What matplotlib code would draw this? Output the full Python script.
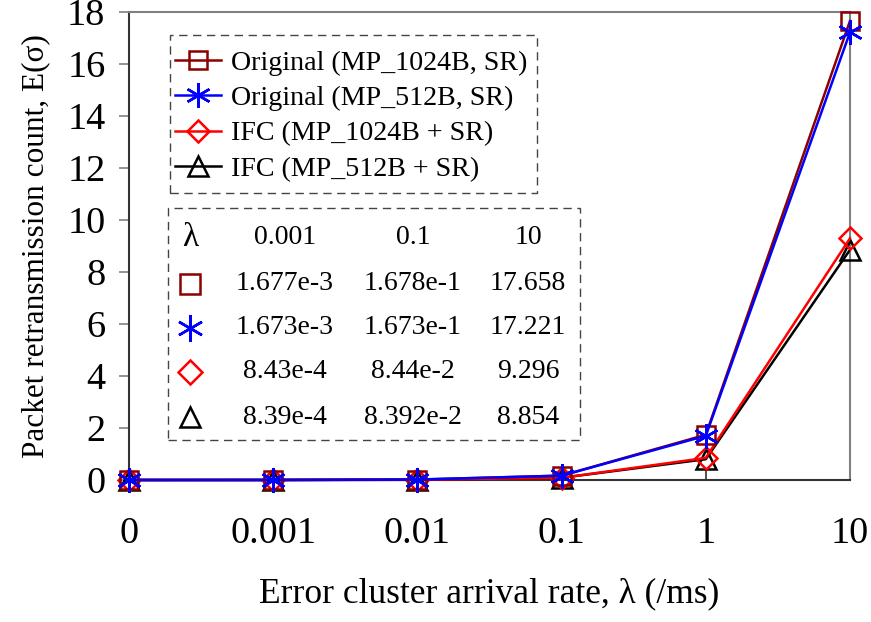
import matplotlib
matplotlib.use("Agg")
import matplotlib.pyplot as plt
from matplotlib.lines import Line2D
from matplotlib.patches import Rectangle

plt.rcParams['font.family'] = ['Liberation Serif', 'DejaVu Serif']

# Error cluster arrival rate categories (/ms)
rates = ["0", "0.001", "0.01", "0.1", "1", "10"]

# Expected packet retransmission count E(sigma)
orig_1024 = [0.0, 1.677e-3, 1.677e-2, 1.678e-1, 1.74, 17.658]
orig_512 = [0.0, 1.673e-3, 1.673e-2, 1.673e-1, 1.70, 17.221]
ifc_1024 = [0.0, 8.43e-4, 8.43e-3, 8.44e-2, 0.85, 9.296]
ifc_512 = [0.0, 8.39e-4, 8.39e-3, 8.392e-2, 0.80, 8.854]

series_labels = ["Original (MP_1024B, SR)", "Original (MP_512B, SR)",
                 "IFC (MP_1024B + SR)", "IFC (MP_512B + SR)"]

# Summary table rows
table_header = ["\u03bb", "0.001", "0.1", "10"]
table_rows = [
    ["1.677e-3", "1.678e-1", "17.658"],
    ["1.673e-3", "1.673e-1", "17.221"],
    ["8.43e-4", "8.44e-2", "9.296"],
    ["8.39e-4", "8.392e-2", "8.854"],
]

W, H = 871, 622
fig = plt.figure(figsize=(W / 100, H / 100), dpi=100)
ax = fig.add_axes([129 / W, 1 - 480 / H, (850 - 129) / W, (480 - 12) / H])

styles = [
    dict(color="#8B0000", marker="s", ms=13),
    dict(color="#0000FF", marker=(6, 2, 0), ms=18),
    dict(color="#FF0000", marker="D", ms=11),
    dict(color="#000000", marker="^", ms=14),
]
data = [orig_1024, orig_512, ifc_1024, ifc_512]
x = list(range(len(rates)))

draw_order = [3, 2, 1, 0]
handles = [None] * 4
for i in draw_order:
    st = styles[i]
    ln, = ax.plot(x, data[i], color=st["color"], lw=1.8, marker=st["marker"],
                  ms=st["ms"], mfc="none", mec=st["color"], mew=1.8,
                  clip_on=False, zorder=3 + (1 if i == 1 else 0),
                  label=series_labels[i])
    handles[i] = ln

ax.set_xlim(0, 5)
ax.set_ylim(0, 18)
ax.set_xticks(x)
ax.set_xticklabels(rates)
ax.set_yticks(range(0, 19, 2))

for side in ("top", "right"):
    ax.spines[side].set_color("#808080")
    ax.spines[side].set_linewidth(1.5)
for side in ("left", "bottom"):
    ax.spines[side].set_color("#333333")
    ax.spines[side].set_linewidth(1.5)

ax.tick_params(axis="x", direction="in", length=8, width=1.2, color="#333333",
               labelsize=27.5, pad=26)
ax.tick_params(axis="y", direction="out", length=7, width=1.2, color="#808080",
               labelsize=27.5, pad=10)

ax.set_xlabel("Error cluster arrival rate, \u03bb (/ms)", fontsize=25.5, labelpad=19)
ax.set_ylabel("Packet retransmission count, E(\u03c3)", fontsize=22.5, labelpad=12)

# Legend entries, framed by a separate dashed box
leg = ax.legend(handles=handles, loc="upper left",
                bbox_to_anchor=(175 / W, 1 - 50 / H), bbox_transform=fig.transFigure,
                fontsize=20.2, frameon=False, handlelength=1.65,
                handletextpad=0.33, labelspacing=0.35, borderpad=0,
                borderaxespad=0)
leg.set_zorder(7)
leg_box = Rectangle((170 / W, 1 - 193 / H), (537 - 170) / W, (193 - 35) / H,
                    transform=fig.transFigure, fill=True, facecolor="white",
                    edgecolor="#444444", lw=1.0, linestyle=(0, (6, 4)),
                    zorder=5, clip_on=False)
ax.add_patch(leg_box)

# Dashed box with the numeric summary
box = Rectangle((168 / W, 1 - 440 / H), (580 - 168) / W, (440 - 208) / H,
                transform=fig.transFigure, fill=True, facecolor="white",
                edgecolor="#444444", lw=1.0, linestyle=(0, (6, 4)), zorder=5)
fig.add_artist(box)

row_y = [238, 284, 328, 372, 417]
col_x = [190, 285, 413, 528]
for j, txt in enumerate(table_header):
    fig.text(col_x[j] / W, 1 - row_y[0] / H, txt, ha="center", va="center",
             fontsize=24 if j == 0 else 20, zorder=6)
for r, row in enumerate(table_rows):
    yy = 1 - row_y[r + 1] / H
    st = styles[r]
    fig.add_artist(Line2D([col_x[0] / W], [yy], transform=fig.transFigure,
                          marker=st["marker"], ms=st["ms"] + 1, mfc="none",
                          mec=st["color"], mew=1.8, ls="none", zorder=6))
    for j, txt in enumerate(row):
        fig.text(col_x[j + 1] / W, yy, txt, ha="center", va="center",
                 fontsize=20, zorder=6)

fig.savefig("out.png", dpi=100)
